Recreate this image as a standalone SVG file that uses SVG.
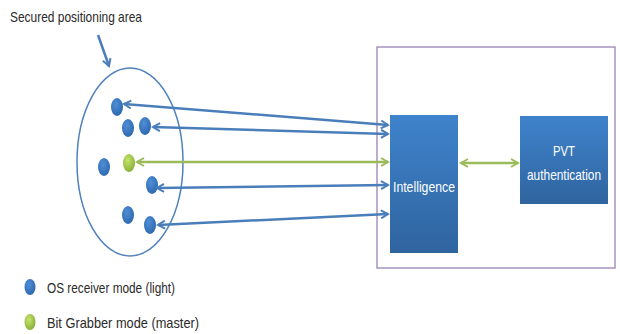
<svg xmlns="http://www.w3.org/2000/svg" width="620" height="334" viewBox="0 0 620 334">
<defs>
<linearGradient id="boxg" x1="0" y1="0" x2="0" y2="1">
<stop offset="0" stop-color="#3f83cc"/>
<stop offset="1" stop-color="#2f649f"/>
</linearGradient>
<radialGradient id="bdot" cx="0.4" cy="0.35" r="0.7">
<stop offset="0" stop-color="#4f8fd6"/>
<stop offset="1" stop-color="#2d66ad"/>
</radialGradient>
<radialGradient id="gdot" cx="0.4" cy="0.35" r="0.7">
<stop offset="0" stop-color="#c6e36e"/>
<stop offset="1" stop-color="#86ad33"/>
</radialGradient>
<marker id="ab" viewBox="0 0 10 10" refX="8" refY="5" markerWidth="4" markerHeight="4" orient="auto-start-reverse" markerUnits="strokeWidth">
<path d="M1,1 L8,5 L1,9" fill="none" stroke="#4a7ebb" stroke-width="2"/>
</marker>
<marker id="ag" viewBox="0 0 10 10" refX="8" refY="5" markerWidth="4" markerHeight="4" orient="auto-start-reverse" markerUnits="strokeWidth">
<path d="M1,1 L8,5 L1,9" fill="none" stroke="#9bbb59" stroke-width="2"/>
</marker>
</defs>
<style>
.t{font-family:"Liberation Sans",Arial,sans-serif;font-size:15px;fill:#2a2a2a;}
.w{font-family:"Liberation Sans",Arial,sans-serif;font-size:15px;fill:#fff;}
.bl{stroke:#4a7ebb;stroke-width:2.5;fill:none;}
.gl{stroke:#9bbb59;stroke-width:2.5;fill:none;}
.bd{fill:url(#bdot);}
.gd{fill:url(#gdot);}
</style>
<rect width="620" height="334" fill="#fff"/>

<g id="title">
<text class="t" x="10" y="22" textLength="132" lengthAdjust="spacingAndGlyphs">Secured positioning area</text>
</g>

<g id="area">
<ellipse cx="130" cy="162" rx="53" ry="94" fill="none" stroke="#4f81bd" stroke-width="1.5"/>
<ellipse class="bd" cx="117" cy="107" rx="6" ry="9"/>
<ellipse class="bd" cx="128" cy="128" rx="6" ry="9"/>
<ellipse class="bd" cx="145" cy="126" rx="6" ry="9"/>
<ellipse class="bd" cx="104" cy="167" rx="6" ry="9"/>
<ellipse class="gd" cx="129" cy="163" rx="6" ry="9"/>
<ellipse class="bd" cx="152" cy="185" rx="6" ry="9"/>
<ellipse class="bd" cx="128" cy="215" rx="6" ry="9"/>
<ellipse class="bd" cx="150" cy="225" rx="6" ry="9"/>
</g>

<g id="system">
<rect x="377" y="47" width="238" height="221" fill="none" stroke="#a593bf" stroke-width="1.5"/>
</g>

<g id="intelligence">
<rect x="390" y="115" width="68" height="138" fill="url(#boxg)"/>
<text class="w" x="424" y="192" text-anchor="middle" textLength="62" lengthAdjust="spacingAndGlyphs">Intelligence</text>
</g>

<g id="pvt">
<rect x="520" y="116" width="88" height="88" fill="url(#boxg)"/>
<text class="w" x="564" y="156" text-anchor="middle" textLength="22" lengthAdjust="spacingAndGlyphs">PVT</text>
<text class="w" x="564" y="180" text-anchor="middle" textLength="74" lengthAdjust="spacingAndGlyphs">authentication</text>
</g>

<g id="legend">
<ellipse class="bd" cx="30" cy="287" rx="5.5" ry="8"/>
<text class="t" x="47" y="293" textLength="128" lengthAdjust="spacingAndGlyphs">OS receiver mode (light)</text>
<ellipse class="gd" cx="30" cy="322" rx="5.5" ry="8"/>
<text class="t" x="47" y="328" textLength="152" lengthAdjust="spacingAndGlyphs">Bit Grabber mode (master)</text>
</g>

<g id="connectors">
<line class="bl" x1="98" y1="35" x2="109" y2="66" marker-end="url(#ab)"/>
<line class="bl" x1="124" y1="104" x2="388" y2="125" marker-start="url(#ab)" marker-end="url(#ab)"/>
<line class="bl" x1="153" y1="127" x2="388" y2="134" marker-start="url(#ab)" marker-end="url(#ab)"/>
<line class="gl" x1="137" y1="162" x2="388" y2="162" marker-start="url(#ag)" marker-end="url(#ag)"/>
<line class="bl" x1="157" y1="188" x2="388" y2="185" marker-start="url(#ab)" marker-end="url(#ab)"/>
<line class="bl" x1="158" y1="225" x2="388" y2="214" marker-start="url(#ab)" marker-end="url(#ab)"/>
<line class="gl" x1="461" y1="163" x2="518" y2="163" marker-start="url(#ag)" marker-end="url(#ag)"/>
</g>
</svg>
